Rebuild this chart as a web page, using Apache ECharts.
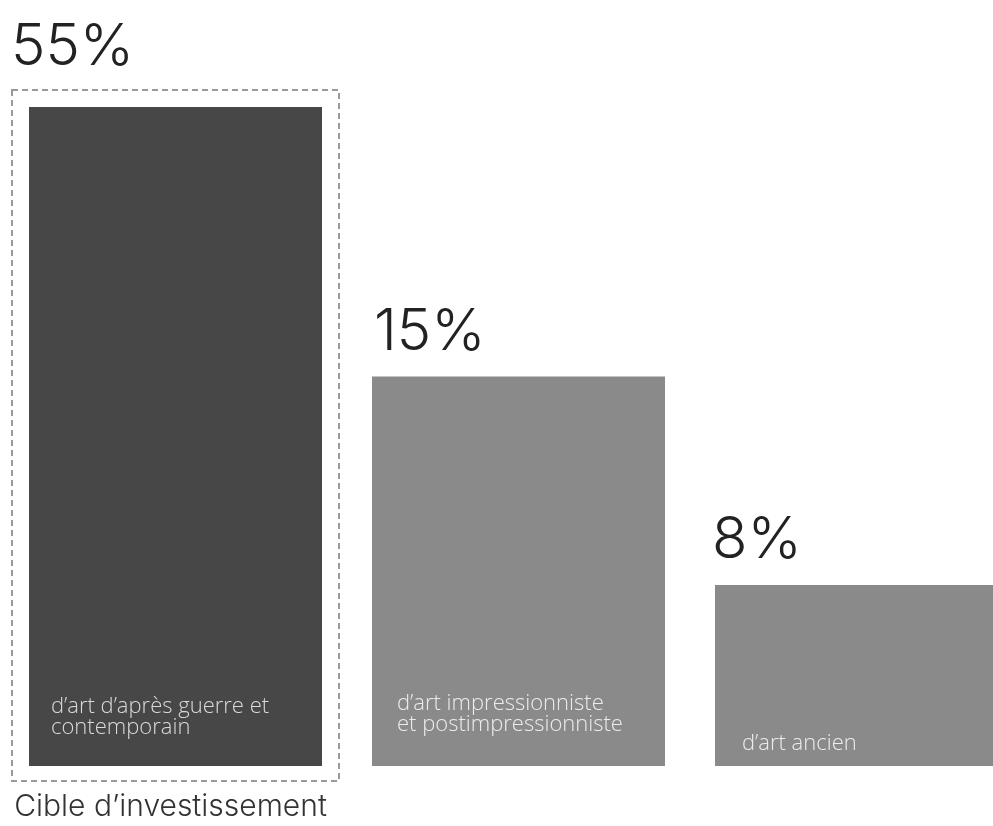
<!DOCTYPE html>
<html>
<head>
<meta charset="utf-8">
<script src="https://cdn.jsdelivr.net/npm/echarts@6/dist/echarts.min.js"></script>
<style>
  html, body { margin: 0; padding: 0; background: #fff; }
  #chart { width: 993px; height: 826px; }
</style>
</head>
<body>
<div id="chart"></div>
<script>
const categories = [
  'd’art d’après guerre et\ncontemporain',
  'd’art impressionniste\net postimpressionniste',
  'd’art ancien',
]
const shares = [55, 15, 8]
// bar heights as drawn in the picture (not proportional to the shares)
const barHeights = [55, 32.5, 15.1]
const targetLabel = 'Cible d’investissement'

const FONT = 'Inter, "Noto Sans", sans-serif'
const NAME_FONT = '"Open Sans", "Noto Sans", sans-serif'
const barColors = ['#474747', '#8a8a8a', '#8a8a8a']
const nameColors = ['#dadada', '#ececec', '#ececec']
const shareOffsets = [[-18, -30], [2, -15], [-3, -16]]
const nameOffsets = [[22, -28], [25, -31], [27, -12]]

const chart = echarts.init(document.getElementById('chart'))

chart.setOption({
  animation: false,
  grid: { left: 4, width: 1029, top: 107, bottom: 60, outerBoundsMode: 'none' },
  xAxis: {
    type: 'category',
    data: categories,
    axisLine: { show: false },
    axisTick: { show: false },
    axisLabel: {
      margin: 24,
      padding: [0, 10, 0, 0],
      fontFamily: FONT,
      fontWeight: 300,
      fontSize: 30,
      lineHeight: 34,
      color: '#333',
      formatter: (value, index) => (index === 0 ? targetLabel : ''),
    },
  },
  yAxis: { type: 'value', min: 0, max: 55, show: false },
  series: [
    {
      type: 'bar',
      barWidth: 293,
      barGap: '-100%',
      silent: true,
      data: barHeights.map((h, i) => ({
        value: h,
        itemStyle: { color: barColors[i] },
        label: {
          show: true,
          position: [shareOffsets[i][0], shareOffsets[i][1]],
          align: 'left',
          verticalAlign: 'bottom',
          formatter: shares[i] + '%',
          fontFamily: FONT,
          fontWeight: 300,
          fontSize: 58,
          lineHeight: 58,
          color: '#222',
        },
      })),
    },
    {
      type: 'bar',
      barWidth: 293,
      barGap: '-100%',
      silent: true,
      data: barHeights.map((h, i) => ({
        value: h,
        itemStyle: { color: 'rgba(0,0,0,0)' },
        label: {
          show: true,
          position: 'insideBottomLeft',
          distance: 0,
          offset: nameOffsets[i],
          align: 'left',
          verticalAlign: 'bottom',
          formatter: categories[i],
          fontFamily: NAME_FONT,
          fontWeight: 300,
          fontSize: 22,
          lineHeight: 21,
          color: nameColors[i],
        },
      })),
    },
  ],
})

// dashed frame round the target bar, placed from the chart's own scales
const [barX, barTop] = chart.convertToPixel({ gridIndex: 0 }, [categories[0], barHeights[0]])
const [, barBase] = chart.convertToPixel({ gridIndex: 0 }, [categories[0], 0])
const half = 293 / 2 + 17
chart.setOption({
  graphic: [
    {
      type: 'rect',
      silent: true,
      shape: { x: barX - half, y: barTop - 17, width: half * 2, height: barBase - barTop + 32 },
      style: { fill: 'none', stroke: '#9a9a9a', lineWidth: 2, lineDash: [6, 4] },
    },
  ],
})
</script>
</body>
</html>
